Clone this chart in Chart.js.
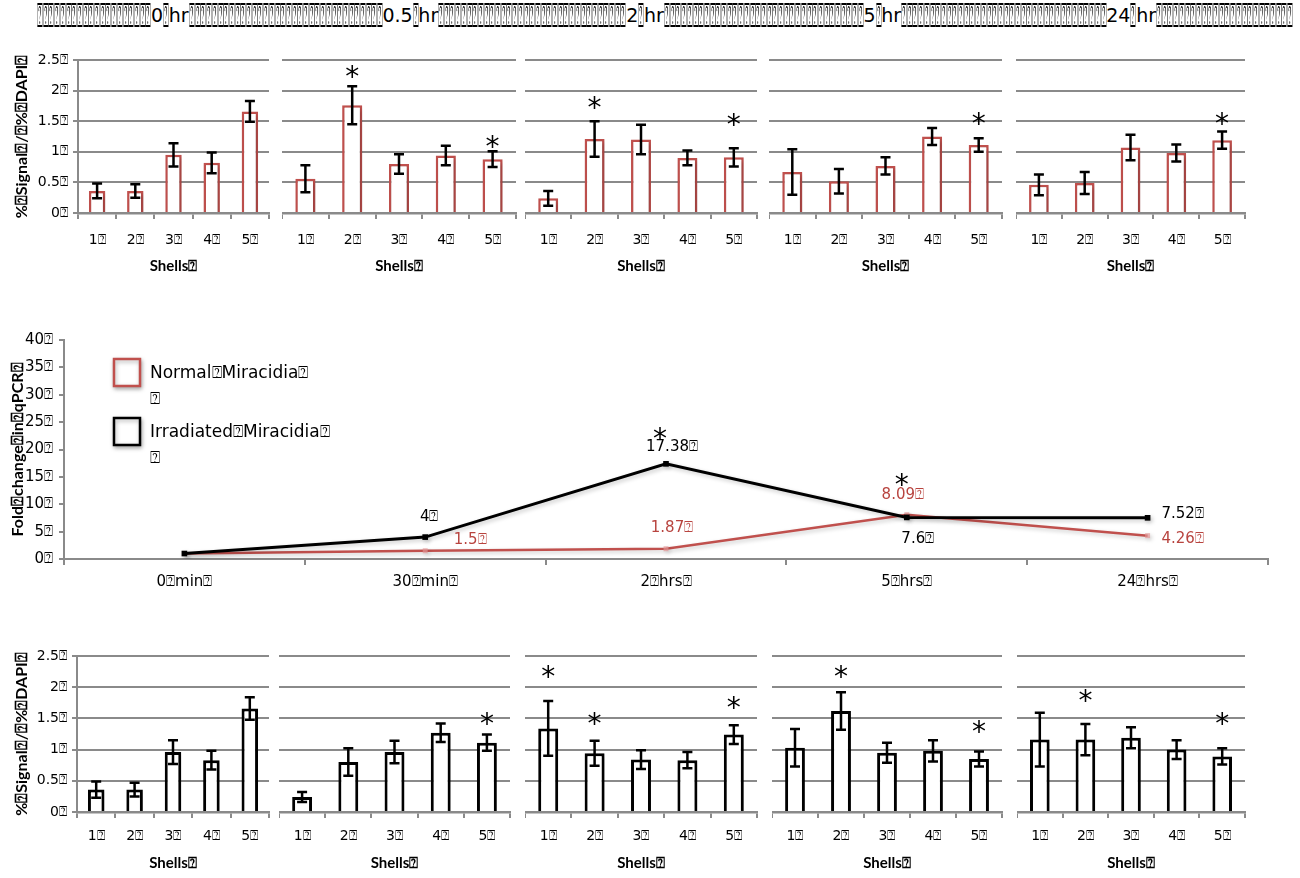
<!DOCTYPE html>
<html lang="en">
<head>
<meta charset="UTF-8" />
<title>Shell signal and qPCR</title>
<script src="https://cdn.jsdelivr.net/npm/chart.js@4.4.1/dist/chart.umd.min.js"></script>
<style>
  body { margin:0; background:#fff; width:1300px; height:878px; position:relative; overflow:hidden; }
  canvas { position:absolute; }
  #title { position:absolute; left:37px; top:3px; font:19px "DejaVu Sans", sans-serif; white-space:nowrap; line-height:24px; height:24px; color:#000; }
  .run { display:inline-block; overflow:visible; vertical-align:top; height:24px; filter:grayscale(1); }
  .run span { display:inline-block; transform-origin:0 50%; font-size:34px; line-height:24px; }
</style>
</head>
<body>
<div id="title"></div>
<script>
// ---- data ----
const Q = '\u2370';
const shells = ['1' + Q, '2' + Q, '3' + Q, '4' + Q, '5' + Q];
const barTicks = ['0' + Q, '0.5' + Q, '1' + Q, '1.5' + Q, '2' + Q, '2.5' + Q];

// top row: normal miracidia, 0 / 0.5 / 2 / 5 / 24 hr
const topVals = [
  [0.36, 0.36, 0.95, 0.82, 1.66],
  [0.56, 1.76, 0.80, 0.94, 0.88],
  [0.24, 1.21, 1.20, 0.90, 0.91],
  [0.67, 0.52, 0.77, 1.25, 1.11],
  [0.46, 0.49, 1.07, 0.98, 1.19]
];
const topErr = [
  [0.12, 0.11, 0.19, 0.17, 0.17],
  [0.22, 0.31, 0.16, 0.16, 0.13],
  [0.12, 0.29, 0.24, 0.12, 0.15],
  [0.37, 0.20, 0.14, 0.14, 0.11],
  [0.17, 0.18, 0.21, 0.14, 0.14]
];
const topStars = [
  [null, null, null, null, null],
  [null, 2.30, null, null, 1.16],
  [null, 1.80, null, null, 1.52],
  [null, null, null, null, 1.54],
  [null, null, null, null, 1.54]
];

// bottom row: irradiated miracidia
const botVals = [
  [0.36, 0.36, 0.96, 0.83, 1.66],
  [0.24, 0.80, 0.96, 1.27, 1.11],
  [1.34, 0.94, 0.84, 0.83, 1.24],
  [1.03, 1.62, 0.95, 0.98, 0.85],
  [1.16, 1.16, 1.19, 1.00, 0.89]
];
const botErr = [
  [0.13, 0.11, 0.19, 0.15, 0.18],
  [0.08, 0.22, 0.18, 0.15, 0.13],
  [0.44, 0.20, 0.15, 0.13, 0.15],
  [0.30, 0.30, 0.16, 0.17, 0.12],
  [0.43, 0.25, 0.17, 0.15, 0.13]
];
const botStars = [
  [null, null, null, null, null],
  [null, null, null, null, 1.49],
  [2.24, 1.49, null, null, 1.75],
  [null, 2.24, null, null, 1.36],
  [null, 1.86, null, null, 1.49]
];

// middle: fold change in qPCR
const timeLabels = ['0' + Q + 'min' + Q, '30' + Q + 'min' + Q, '2' + Q + 'hrs' + Q, '5' + Q + 'hrs' + Q, '24' + Q + 'hrs' + Q];
const seriesNames = ['Normal' + Q + 'Miracidia' + Q, 'Irradiated' + Q + 'Miracidia' + Q];
const normalFold = [1, 1.5, 1.87, 8.09, 4.26];
const irradFold = [1, 4, 17.38, 7.6, 7.52];
const foldTicks = [0, 5, 10, 15, 20, 25, 30, 35, 40];

const titleParts = [20, '0', 1, 'hr', 34, '0.5', 1, 'hr', 33, '2', 1, 'hr', 35, '5', 1, 'hr', 36, '24', 1, 'hr', 24];

// ---- title row ----
const title = document.getElementById('title');
const mc = document.createElement('canvas').getContext('2d');
mc.font = '34px "DejaVu Sans", sans-serif';
const qw = mc.measureText(Q).width;
const pitch = 5.7;
titleParts.forEach(p => {
  if (typeof p === 'number') {
    const run = document.createElement('span');
    run.className = 'run';
    run.style.width = (p * pitch) + 'px';
    const inner = document.createElement('span');
    inner.textContent = Q.repeat(p);
    inner.style.transform = 'scaleX(' + (pitch / qw) + ')';
    run.appendChild(inner);
    title.appendChild(run);
  } else {
    const s = document.createElement('span');
    s.textContent = p;
    title.appendChild(s);
  }
});

// ---- charts ----
Chart.defaults.font.family = '"DejaVu Sans", sans-serif';
Chart.defaults.color = '#000';
const GRAY = '#8a8a8a';
const RED = '#c0504d';

function drawStar(ctx, x, y) {
  ctx.save();
  ctx.font = '28px "DejaVu Sans", sans-serif';
  ctx.fillStyle = '#000';
  ctx.textAlign = 'center';
  ctx.textBaseline = 'alphabetic';
  const m = ctx.measureText('*');
  ctx.fillText('*', x, y + (m.actualBoundingBoxAscent - m.actualBoundingBoxDescent) / 2);
  ctx.restore();
}

const shadow = {
  id: 'shadow',
  beforeDatasetsDraw(chart) {
    const ctx = chart.ctx;
    ctx.save();
    ctx.shadowColor = 'rgba(0,0,0,0.22)';
    ctx.shadowBlur = 4;
    ctx.shadowOffsetX = 2;
    ctx.shadowOffsetY = 2;
  },
  afterDatasetsDraw(chart) { chart.ctx.restore(); }
};

const errBars = {
  id: 'errbars',
  afterDatasetsDraw(chart, args, opts) {
    const ctx = chart.ctx, y = chart.scales.y;
    const vals = chart.data.datasets[0].data;
    ctx.save();
    ctx.strokeStyle = '#000';
    ctx.lineWidth = 2.5;
    chart.getDatasetMeta(0).data.forEach((bar, i) => {
      const hi = y.getPixelForValue(vals[i] + opts.errs[i]);
      const lo = y.getPixelForValue(vals[i] - opts.errs[i]);
      ctx.beginPath();
      ctx.moveTo(bar.x, hi); ctx.lineTo(bar.x, lo);
      ctx.moveTo(bar.x - 5, hi); ctx.lineTo(bar.x + 5, hi);
      ctx.moveTo(bar.x - 5, lo); ctx.lineTo(bar.x + 5, lo);
      ctx.stroke();
      if (opts.stars[i] != null) drawStar(ctx, bar.x, y.getPixelForValue(opts.stars[i]));
    });
    ctx.restore();
  }
};

function addCanvas(left, top, w, h) {
  const cv = document.createElement('canvas');
  cv.width = w; cv.height = h;
  cv.style.left = left + 'px'; cv.style.top = top + 'px';
  document.body.appendChild(cv);
  return cv;
}

// area = [left, right, top(2.5), bottom(0)] of plot area on the page
function barPanel(area, vals, errs, stars, color, bw, first, xh, tickPad) {
  const [l, r, t, b] = area;
  const yw = first ? l : 0;
  const padTop = 14;
  const cv = addCanvas(l - yw, t - padTop, (r - l) + yw + 6, padTop + (b - t) + xh);
  new Chart(cv, {
    type: 'bar',
    data: {
      labels: shells,
      datasets: [{
        data: vals, backgroundColor: '#fff', borderColor: color, borderWidth: bw,
        barPercentage: 0.43, categoryPercentage: 1
      }]
    },
    options: {
      responsive: false, animation: false,
      layout: { padding: { top: padTop, right: 6, left: 0, bottom: 0 } },
      plugins: { legend: { display: false }, tooltip: { enabled: false }, errbars: { errs: errs, stars: stars } },
      scales: {
        x: {
          grid: { offset: true, drawOnChartArea: false, tickLength: 6, color: GRAY, lineWidth: 2 },
          border: { color: GRAY, width: 2.5 },
          ticks: { font: { size: 14 }, padding: tickPad },
          title: { display: true, text: 'Shells' + Q, font: { family: 'Lato', weight: 'bold', size: 15 }, padding: 0 },
          afterFit: s => { s.height = xh; }
        },
        y: {
          min: 0, max: 2.5,
          ticks: { stepSize: 0.5, display: first, callback: (v, i) => barTicks[i], font: { size: 14 }, padding: 5 },
          grid: { color: GRAY, lineWidth: 2, drawTicks: first, tickLength: 5 },
          border: { display: first, color: GRAY, width: 2 },
          title: { display: first, text: '%' + Q + 'Signal' + Q + '/' + Q + '%' + Q + 'DAPI' + Q, font: { family: 'Lato', weight: 'bold', size: 16 }, padding: { top: 12 } },
          afterFit: s => { s.width = yw; }
        }
      }
    },
    plugins: [shadow, errBars]
  });
}

const topAreas = [[78, 269, 60, 213], [282, 516, 60, 213], [525, 757, 60, 213], [769, 1002, 60, 213], [1016, 1245, 60, 213]];
const botAreas = [[77, 269, 656, 812], [279, 510, 656, 812], [525, 757, 656, 812], [772, 1002, 656, 812], [1017, 1245, 656, 812]];
topAreas.forEach((a, i) => barPanel(a, topVals[i], topErr[i], topStars[i], RED, 2.5, i === 0, 62, 12.6));
botAreas.forEach((a, i) => barPanel(a, botVals[i], botErr[i], botStars[i], '#000', 3, i === 0, 60, 9.6));

// point labels, stars and legend for the line chart
const lineExtras = {
  id: 'lineExtras',
  afterDatasetsDraw(chart) {
    const ctx = chart.ctx;
    const offs = [
      [null, [45, -11], [6, -21], [-4, -20], [35, 3]],
      [null, [4, -20], [6, -17], [11, 22], [35, -4]]
    ];
    const colors = ['#b8443f', '#000'];
    ctx.save();
    ctx.font = '15px "DejaVu Sans", sans-serif';
    ctx.textAlign = 'center';
    ctx.textBaseline = 'middle';
    chart.data.datasets.forEach((ds, d) => {
      chart.getDatasetMeta(d).data.forEach((pt, i) => {
        const o = offs[d][i];
        if (!o) return;
        ctx.fillStyle = colors[d];
        ctx.fillText(String(ds.data[i]) + Q, pt.x + o[0], pt.y + o[1]);
      });
    });
    const black = chart.getDatasetMeta(1).data;
    drawStar(ctx, black[2].x - 6, black[2].y - 30);
    drawStar(ctx, black[3].x - 5, black[3].y - 37);
    ctx.restore();
  },
  afterDraw(chart) {
    const ctx = chart.ctx, ca = chart.chartArea;
    const rows = [19, 78];
    ctx.save();
    chart.data.datasets.forEach((ds, d) => {
      const bx = ca.left + 50, by = ca.top + rows[d];
      ctx.save();
      ctx.shadowColor = 'rgba(0,0,0,0.3)';
      ctx.shadowBlur = 4; ctx.shadowOffsetX = 1; ctx.shadowOffsetY = 2;
      ctx.fillStyle = '#fff';
      ctx.strokeStyle = ds.borderColor;
      ctx.lineWidth = 2.5;
      ctx.fillRect(bx, by, 26, 27);
      ctx.strokeRect(bx, by, 26, 27);
      ctx.restore();
      ctx.fillStyle = '#000';
      ctx.font = '17px "DejaVu Sans", sans-serif';
      ctx.textBaseline = 'middle';
      ctx.fillText(ds.label, ca.left + 86, by + 15);
      ctx.fillText(Q, ca.left + 86, by + 41);
    });
    ctx.restore();
  }
};

const lineCv = addCanvas(0, 325, 1292, 270);
new Chart(lineCv, {
  type: 'line',
  data: {
    labels: timeLabels,
    datasets: [
      { label: seriesNames[0], data: normalFold, borderColor: RED, borderWidth: 2.5, tension: 0, order: 2,
        pointStyle: 'rect', pointRadius: 3.5, pointBackgroundColor: 'rgba(226,150,150,0.7)', pointBorderWidth: 0 },
      { label: seriesNames[1], data: irradFold, borderColor: '#000', borderWidth: 3, tension: 0, order: 1,
        pointStyle: 'rect', pointRadius: 4, pointBackgroundColor: '#000', pointBorderWidth: 0 }
    ]
  },
  options: {
    responsive: false, animation: false,
    layout: { padding: { top: 10, right: 24, left: 0, bottom: 0 } },
    plugins: { legend: { display: false }, tooltip: { enabled: false } },
    scales: {
      x: {
        offset: true,
        grid: { offset: true, drawOnChartArea: false, tickLength: 6, color: GRAY, lineWidth: 2 },
        border: { color: GRAY, width: 2 },
        ticks: { font: { size: 15 }, padding: 8 },
        afterFit: s => { s.height = 36; }
      },
      y: {
        min: 0, max: 40,
        afterBuildTicks: s => { s.ticks = foldTicks.map(v => ({ value: v })); },
        ticks: { callback: v => v + Q, font: { size: 15 }, padding: 6 },
        grid: { drawOnChartArea: false, tickLength: 5, color: GRAY, lineWidth: 2 },
        border: { color: GRAY, width: 2 },
        title: { display: true, text: 'Fold' + Q + 'change' + Q + 'in' + Q + 'qPCR' + Q, font: { family: 'Lato', weight: 'bold', size: 16 }, padding: { top: 8 } },
        afterFit: s => { s.width = 64; }
      }
    }
  },
  plugins: [shadow, lineExtras]
});
</script>
</body>
</html>
